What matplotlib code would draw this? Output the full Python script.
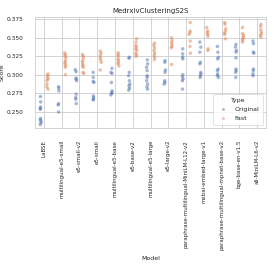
import numpy as np
import pandas as pd
import seaborn as sns
import matplotlib
matplotlib.use("Agg")
import matplotlib.pyplot as plt

MODELS = ['LaBSE', 'multilingual-e5-small', 'e5-small-v2', 'e5-small',
          'multilingual-e5-base', 'e5-base-v2', 'multilingual-e5-large',
          'e5-large-v2', 'paraphrase-multilingual-MiniLM-L12-v2',
          'mxbai-embed-large-v1', 'paraphrase-multilingual-mpnet-base-v2',
          'bge-base-en-v1.5', 'all-MiniLM-L6-v2']

original_scores = [
    [0.2708, 0.2636, 0.2568, 0.2550, 0.2536, 0.2414, 0.2395, 0.2377, 0.2355, 0.2332],
    [0.2840, 0.2822, 0.2785, 0.2613, 0.2595, 0.2500],
    [0.3070, 0.3043, 0.2957, 0.2943, 0.2921, 0.2740, 0.2694, 0.2672, 0.2613],
    [0.3034, 0.2966, 0.2912, 0.2898, 0.2717, 0.2694, 0.2672, 0.2663],
    [0.3088, 0.3034, 0.3020, 0.2898, 0.2785, 0.2762, 0.2749, 0.2731],
    [0.3238, 0.3224, 0.3034, 0.2989, 0.2921, 0.2876, 0.2853, 0.2822, 0.2794],
    [0.3202, 0.3148, 0.3102, 0.3057, 0.2989, 0.2966, 0.2921, 0.2876, 0.2840, 0.2808],
    [0.3193, 0.3170, 0.3066, 0.3034, 0.2921, 0.2898, 0.2876],
    [0.3351, 0.3283, 0.3238, 0.3215, 0.3003, 0.2975, 0.2944, 0.2921, 0.2808],
    [0.3442, 0.3374, 0.3306, 0.3170, 0.3148, 0.3034, 0.3012, 0.2989, 0.2966],
    [0.3383, 0.3306, 0.3238, 0.3215, 0.3079, 0.3057, 0.3012, 0.2989, 0.2966],
    [0.3410, 0.3374, 0.3329, 0.3306, 0.3229, 0.3079, 0.3057, 0.3034, 0.2966],
    [0.3456, 0.3420, 0.3306, 0.3293, 0.3079, 0.3057, 0.3012, 0.2989],
]

fast_scores = [
    [0.3012, 0.2990, 0.2967, 0.2944, 0.2922, 0.2876, 0.2840, 0.2808],
    [0.3297, 0.3274, 0.3252, 0.3229, 0.3193, 0.3170, 0.3148, 0.3125, 0.3102, 0.3003],
    [0.3274, 0.3252, 0.3229, 0.3193, 0.3170, 0.3139, 0.3121, 0.3102, 0.3034, 0.3020],
    [0.3320, 0.3293, 0.3261, 0.3229, 0.3202, 0.3170, 0.3066],
    [0.3297, 0.3274, 0.3252, 0.3215, 0.3193, 0.3166, 0.3148, 0.3121],
    [0.3487, 0.3442, 0.3397, 0.3374, 0.3351, 0.3329, 0.3293, 0.3270, 0.3247],
    [0.3428, 0.3397, 0.3365, 0.3329, 0.3297, 0.3270, 0.3238, 0.3206],
    [0.3500, 0.3465, 0.3437, 0.3410, 0.3383, 0.3365, 0.3139],
    [0.3705, 0.3592, 0.3569, 0.3546, 0.3456, 0.3383, 0.3293],
    [0.3637, 0.3592, 0.3569, 0.3546, 0.3519, 0.3351, 0.3329],
    [0.3705, 0.3682, 0.3623, 0.3592, 0.3564, 0.3546, 0.3487],
    [0.3637, 0.3555, 0.3532, 0.3510, 0.3487, 0.3465, 0.3442],
    [0.3682, 0.3655, 0.3610, 0.3578, 0.3555, 0.3533, 0.3510],
]

rows = []
for model, orig, fast in zip(MODELS, original_scores, fast_scores):
    rows += [{'Model': model, 'Score': s, 'Type': 'Original'} for s in orig]
    rows += [{'Model': model, 'Score': s, 'Type': 'Fast'} for s in fast]
df = pd.DataFrame(rows)

sns.set_theme(style="whitegrid")
plt.rcParams['font.family'] = ['DejaVu Sans']

np.random.seed(0)
fig = plt.figure(figsize=(2.74, 2.74), dpi=100)
ax = fig.add_axes([0.128, 0.533, 0.843, 0.405])
sns.stripplot(data=df, x='Model', y='Score', hue='Type', order=MODELS,
              hue_order=['Original', 'Fast'], dodge=True, jitter=0.08,
              size=2.5, alpha=0.5, linewidth=0, ax=ax)

ax.set_ylim(0.2285, 0.378)
ax.set_yticks([0.25, 0.275, 0.3, 0.325, 0.35, 0.375])
ax.set_title('MedrxivClusteringS2S', fontsize=5, pad=3)
ax.set_xlabel('Model', fontsize=4.5, labelpad=4)
ax.set_ylabel('Score', fontsize=4.5, labelpad=2)
ax.tick_params(axis='x', labelsize=4.0, rotation=90, pad=2.5)
ax.tick_params(axis='y', labelsize=4.2, pad=2)
for s in ax.spines.values():
    s.set_linewidth(0.6)
ax.grid(linewidth=0.6)

leg = ax.legend(title='Type', loc='lower right', fontsize=4.5, title_fontsize=4.5,
                markerscale=0.8, borderpad=0.6, labelspacing=0.6)
leg.get_frame().set_linewidth(0.5)

fig.savefig('out.png', dpi=100)
